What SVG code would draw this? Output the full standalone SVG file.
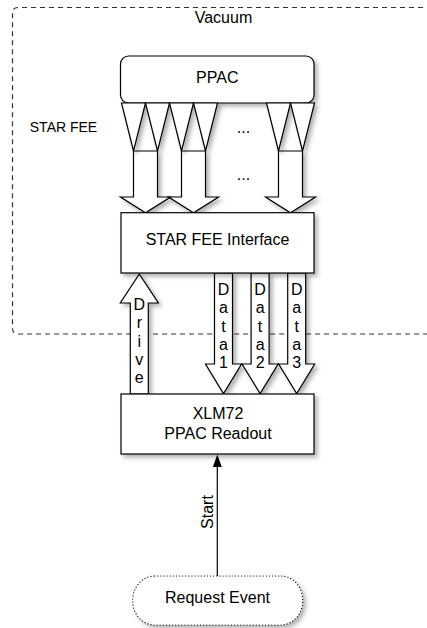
<svg xmlns="http://www.w3.org/2000/svg" width="427" height="628" viewBox="0 0 427 628">
<defs>
<filter id="sh" x="-20%" y="-20%" width="150%" height="150%">
<feDropShadow dx="3" dy="3" stdDeviation="2" flood-color="#000" flood-opacity="0.3"/>
</filter>
</defs>
<style>
.t{font-family:"Liberation Sans",Arial,sans-serif;font-size:16px;fill:#000;text-anchor:middle}
.box{fill:#fff;stroke:#000;stroke-width:1.2;filter:url(#sh)}
.arr{fill:#fff;stroke:#000;stroke-width:1.2;filter:url(#sh)}
.tri{fill:#fff;stroke:#000;stroke-width:1.2}
</style>
<rect width="427" height="628" fill="#fff"/>
<g id="vacuum">
<path d="M 432 7.5 H 18 Q 12.5 7.5 12.5 13 V 328.5 Q 12.5 334 18 334 H 432" fill="none" stroke="#333" stroke-width="1.2" stroke-dasharray="5,4"/>
<text class="t" x="223.5" y="22.5">Vacuum</text>
</g>
<g id="connectors">
<polygon class="arr" points="133.5,151 157.5,151 157.5,197 170.5,197 145.5,212.7 120.5,197 133.5,197"/>
<polygon class="arr" points="181.5,151 205.5,151 205.5,197 218.5,197 193.5,212.7 168.5,197 181.5,197"/>
<polygon class="arr" points="278.5,151 302.5,151 302.5,197 315.5,197 290.5,212.7 265.5,197 278.5,197"/>
<g id="drive">
<polygon class="arr" points="139.3,274 158.3,303 148.3,303 148.3,394 130.3,394 130.3,303 120.3,303"/>
<text class="t"><tspan x="139.3" y="310">D</tspan><tspan x="139.3" y="328.3">r</tspan><tspan x="139.3" y="346.6">i</tspan><tspan x="139.3" y="364.9">v</tspan><tspan x="139.3" y="383.2">e</tspan></text>
</g>
<g id="data1">
<polygon class="arr" points="214.5,273 232.5,273 232.5,364 241.5,364 223.5,393.5 205.5,364 214.5,364"/>
<text class="t"><tspan x="223.5" y="295">D</tspan><tspan x="223.5" y="313.3">a</tspan><tspan x="223.5" y="331.6">t</tspan><tspan x="223.5" y="349.9">a</tspan><tspan x="223.5" y="368.2">1</tspan></text>
</g>
<g id="data2">
<polygon class="arr" points="251.1,273 269.1,273 269.1,364 278.1,364 260.1,393.5 242.1,364 251.1,364"/>
<text class="t"><tspan x="260.1" y="295">D</tspan><tspan x="260.1" y="313.3">a</tspan><tspan x="260.1" y="331.6">t</tspan><tspan x="260.1" y="349.9">a</tspan><tspan x="260.1" y="368.2">2</tspan></text>
</g>
<g id="data3">
<polygon class="arr" points="287.7,273 305.7,273 305.7,364 314.7,364 296.7,393.5 278.7,364 287.7,364"/>
<text class="t"><tspan x="296.7" y="295">D</tspan><tspan x="296.7" y="313.3">a</tspan><tspan x="296.7" y="331.6">t</tspan><tspan x="296.7" y="349.9">a</tspan><tspan x="296.7" y="368.2">3</tspan></text>
</g>
<g id="start">
<line x1="217.3" y1="576" x2="217.3" y2="465" stroke="#000" stroke-width="1.2"/>
<polygon points="217.3,454.5 212.8,467 221.8,467" fill="#000"/>
<text class="t" transform="translate(213,512) rotate(-90)">Start</text>
</g>
</g>
<g id="ppac">
<rect class="box" x="120.5" y="56" width="193.5" height="47" rx="8"/>
<text class="t" x="217.3" y="83.3">PPAC</text>
</g>
<g id="star-fee">
<g filter="url(#sh)">
<polygon class="tri" points="121.5,103 145.5,103 133.5,151"/>
<polygon class="tri" points="145.5,103 169.5,103 157.5,151"/>
<polygon class="tri" points="169.5,103 193.5,103 181.5,151"/>
<polygon class="tri" points="193.5,103 217.5,103 205.5,151"/>
<polygon class="tri" points="266.5,103 290.5,103 278.5,151"/>
<polygon class="tri" points="290.5,103 314.5,103 302.5,151"/>
</g>
<text class="t" x="63.5" y="132" style="font-size:14px">STAR FEE</text>
<text class="t" x="243.5" y="132.5">...</text>
<text class="t" x="243.5" y="180">...</text>
</g>
<g id="interface">
<rect class="box" x="121" y="212.7" width="193" height="60.3"/>
<text class="t" x="217.5" y="245">STAR FEE Interface</text>
</g>
<g id="xlm72">
<rect class="box" x="121" y="394" width="193" height="60"/>
<text class="t" x="218" y="419">XLM72</text>
<text class="t" x="218" y="439">PPAC Readout</text>
</g>
<g id="request">
<rect x="132.7" y="576" width="170" height="49" rx="22" ry="24" fill="#fff" stroke="#000" stroke-width="1.2" stroke-dasharray="0.1,3" stroke-linecap="round" filter="url(#sh)"/>
<text class="t" x="217.5" y="603">Request Event</text>
</g>
</svg>
